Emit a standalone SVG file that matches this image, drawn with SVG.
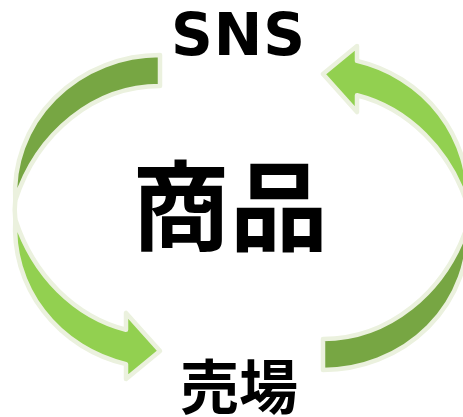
<svg xmlns="http://www.w3.org/2000/svg" xmlns:xlink="http://www.w3.org/1999/xlink" width="463" height="417" viewBox="0 0 463 417">
  <style>
    .outline { stroke: #EBF1DE; stroke-width: 4.5; stroke-linejoin: round; }
    .dark { fill: #77A643; }
    .light { fill: #92D050; }
    .seam { fill: none; stroke: #EBF1DE; stroke-width: 4.5; }
    .label { fill: #000000; font-weight: bold; text-anchor: middle; }
    .latin { font-family: "DejaVu Sans", Verdana, sans-serif; }
    .cjk { font-family: "Noto Sans CJK JP", "Noto Sans CJK SC", sans-serif; }
  </style>
  <defs>
    <g id="curvedArrow">
      <path class="seam" d="M15.25,200.5 Q14.2,210 15.3,219.5"/>
      <path class="outline dark" d="M160,55 A145,137.75 0 0 0 15.25,200.5 A154,174 0 0 1 160,86 Z"/>
      <path class="outline light" d="M15.3,219.5 A145,140 0 0 0 126,364.1 L126,379 L160,351 L126,313 L126,329.7 A154,174 0 0 1 15.3,219.5 Z"/>
    </g>
  </defs>
  <rect width="463" height="417" fill="#FFFFFF"/>
  <g id="connectors">
    <use id="arrow-sns-to-uriba" xlink:href="#curvedArrow"/>
    <use id="arrow-uriba-to-sns" xlink:href="#curvedArrow" transform="rotate(180 241.5 212.5)"/>
  </g>
  <g id="node-sns">
    <text class="label latin" x="238.5" y="55" font-size="58" letter-spacing="1">SNS</text>
  </g>
  <g id="node-shohin">
    <text class="label cjk" x="230" y="243" font-size="98">商品</text>
  </g>
  <g id="node-uriba">
    <text class="label cjk" x="239" y="408.5" font-size="59">売場</text>
  </g>
</svg>
